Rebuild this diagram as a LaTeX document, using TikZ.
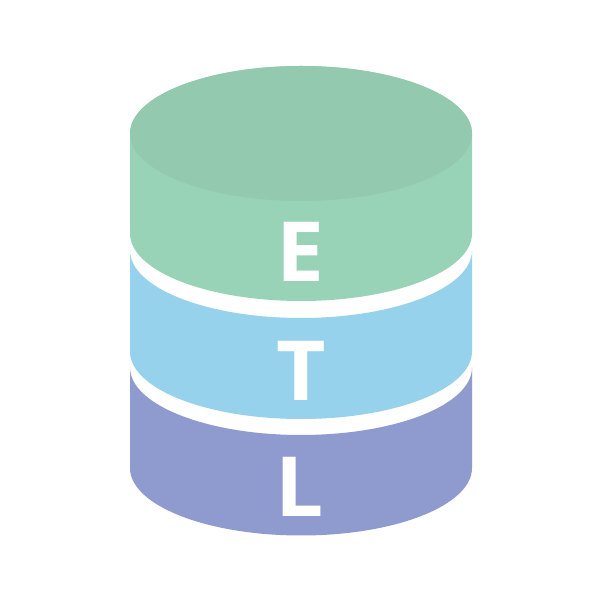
\documentclass[tikz,border=0pt]{standalone}
\usepackage{fontspec}
\setmainfont{Open Sans}
\tikzset{
  letter/.style={text=white,inner sep=0pt,anchor=base,xscale=1.03,font=\fontsize{83}{83}\selectfont\bfseries},
  layer/.style={draw=none},
  rim/.style={x radius=171pt,y radius=67.5pt}
}
\definecolor{lidgreen}{HTML}{93C9AE}
\definecolor{etlgreen}{HTML}{99D3B7}
\definecolor{etlblue}{HTML}{96D2EC}
\definecolor{etlpurple}{HTML}{8F9BCF}
\begin{document}
\begin{tikzpicture}[x=1pt,y=1pt]
  \useasboundingbox (0,0) rectangle (612,612);
  \fill[white] (0,0) rectangle (612,612);
  % bottom layer
  \fill[layer,etlpurple] (130,244.5) arc[start angle=180,end angle=360,rim]
    -- (472,144) arc[start angle=0,end angle=-180,rim] -- cycle;
  % middle layer
  \fill[layer,etlblue] (130,361.5) arc[start angle=180,end angle=360,rim]
    -- (472,260.5) arc[start angle=0,end angle=-180,rim] -- cycle;
  % top layer
  \fill[layer,etlgreen] (130,478.5) arc[start angle=180,end angle=0,rim]
    -- (472,378.5) arc[start angle=0,end angle=-180,rim] -- cycle;
  \fill[layer,lidgreen] (301,478.5) ellipse[rim];
  \node[letter] (e) at (300.5,330) {E};
  \node[letter] (t) at (301.5,211) {T};
  \node[letter] (l) at (299.5,95) {L};
\end{tikzpicture}
\end{document}
